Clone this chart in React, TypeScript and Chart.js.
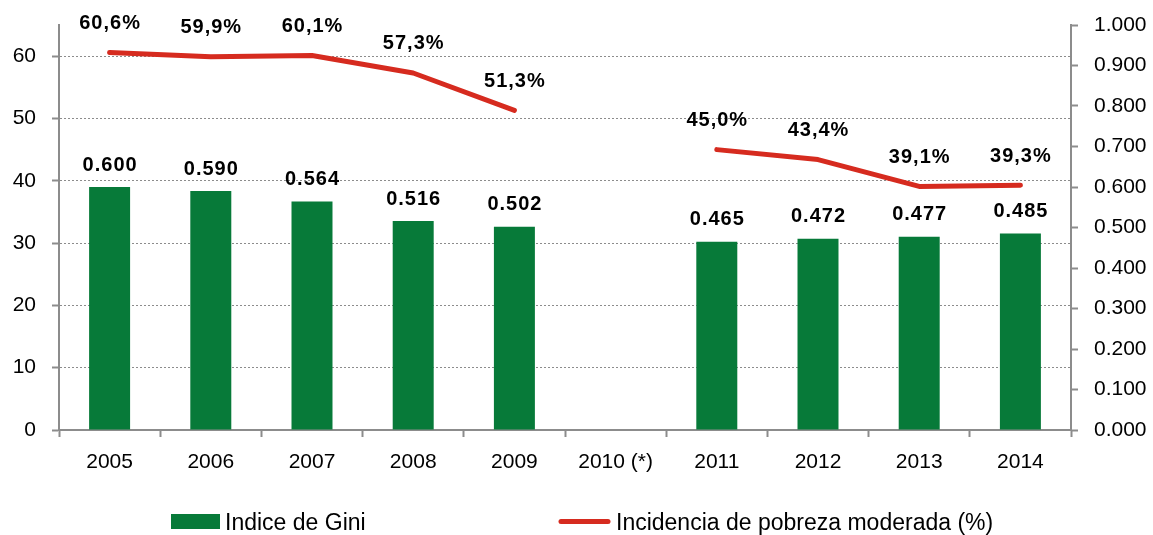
import React, { useEffect, useRef } from "react";
import { Chart, registerables } from "chart.js";

Chart.register(...registerables);

const categories = ["2005", "2006", "2007", "2008", "2009", "2010 (*)", "2011", "2012", "2013", "2014"];
const giniValues = [0.6, 0.59, 0.564, 0.516, 0.502, null, 0.465, 0.472, 0.477, 0.485];
const povertyValues = [60.6, 59.9, 60.1, 57.3, 51.3, null, 45.0, 43.4, 39.1, 39.3];
const leftTicks = [0, 10, 20, 30, 40, 50, 60];
const rightTicks = [0, 0.1, 0.2, 0.3, 0.4, 0.5, 0.6, 0.7, 0.8, 0.9, 1.0];
const giniLabel = "Indice de Gini";
const povertyLabel = "Incidencia de pobreza moderada (%)";

const GREEN = "#077a39";
const RED = "#d62b1f";
const GREY = "#8c8c8c";
const FONT = "'Liberation Sans', Arial, sans-serif";

const valueLabelPlugin = {
  id: "valueLabels",
  afterDatasetsDraw(chart: any) {
    const ctx = chart.ctx;
    ctx.save();
    ctx.font = `bold 20px ${FONT}`;
    ctx.fillStyle = "#000";
    ctx.textAlign = "center";
    ctx.textBaseline = "middle";
    (ctx as any).letterSpacing = "1px";
    chart.data.datasets.forEach((ds: any, i: number) => {
      const meta = chart.getDatasetMeta(i);
      meta.data.forEach((el: any, j: number) => {
        const v = ds.data[j];
        if (v == null) return;
        const isLine = ds.type === "line";
        const text = isLine ? v.toFixed(1).replace(".", ",") + "%" : v.toFixed(3);
        const y = isLine ? el.y - 29 : el.y - 22;
        ctx.fillText(text, el.x + 0.5, y);
      });
    });
    ctx.restore();
  },
};

const legendPlugin = {
  id: "bottomLegend",
  afterDraw(chart: any) {
    const ctx = chart.ctx;
    ctx.save();
    ctx.font = `23px ${FONT}`;
    ctx.textAlign = "left";
    ctx.textBaseline = "middle";
    ctx.fillStyle = GREEN;
    ctx.fillRect(171, 514, 49, 15);
    ctx.fillStyle = "#000";
    ctx.fillText(giniLabel, 225, 524);
    ctx.strokeStyle = RED;
    ctx.lineWidth = 5;
    ctx.lineCap = "round";
    ctx.beginPath();
    ctx.moveTo(561, 521.5);
    ctx.lineTo(608, 521.5);
    ctx.stroke();
    ctx.fillText(povertyLabel, 616, 524);
    ctx.restore();
  },
};

export default function App() {
  const canvasRef = useRef<HTMLCanvasElement | null>(null);

  useEffect(() => {
    if (!canvasRef.current) return;
    const chart = new Chart(canvasRef.current, {
      type: "bar",
      data: {
        labels: categories,
        datasets: [
          {
            type: "line",
            label: povertyLabel,
            data: povertyValues,
            yAxisID: "yL",
            borderColor: RED,
            backgroundColor: RED,
            borderWidth: 5,
            pointRadius: 0,
            pointHoverRadius: 0,
            spanGaps: false,
            tension: 0,
            borderCapStyle: "round",
            borderJoinStyle: "round",
            order: 0,
          } as any,
          {
            type: "bar",
            label: giniLabel,
            data: giniValues,
            yAxisID: "yR",
            backgroundColor: GREEN,
            categoryPercentage: 1,
            barPercentage: 0.405,
            order: 1,
          } as any,
        ],
      },
      options: {
        responsive: false,
        animation: false,
        layout: { padding: { top: 25, bottom: 55, left: 0, right: 0 } },
        plugins: {
          legend: { display: false },
          tooltip: { enabled: false },
        },
        scales: {
          x: {
            offset: true,
            afterFit: (s: any) => {
              s.height = 50;
              s.paddingLeft = 0;
              s.paddingRight = 0;
            },
            grid: {
              offset: true,
              drawOnChartArea: false,
              drawTicks: true,
              tickLength: 7,
              tickWidth: 2,
              tickColor: GREY,
              color: GREY,
            },
            border: { display: true, color: GREY, width: 2 },
            ticks: {
              color: "#000",
              font: { family: FONT, size: 21 },
              padding: 13,
              maxRotation: 0,
              autoSkip: false,
            },
          },
          yL: {
            type: "linear",
            position: "left",
            min: 0,
            max: 65,
            afterFit: (s: any) => {
              s.width = 59;
              s.paddingTop = 0;
              s.paddingBottom = 0;
            },
            afterBuildTicks: (s: any) => {
              s.ticks = leftTicks.map((v) => ({ value: v }));
            },
            grid: {
              color: (c: any) => (c.tick && c.tick.value === 0 ? "rgba(0,0,0,0)" : GREY),
              lineWidth: 1,
              drawTicks: true,
              tickLength: 7,
              tickWidth: 2,
              tickColor: GREY,
              tickBorderDash: [],
            } as any,
            border: { display: true, color: GREY, width: 2, dash: [2, 2] },
            ticks: {
              color: "#000",
              font: { family: FONT, size: 21 },
              padding: 16,
            },
          },
          yR: {
            type: "linear",
            position: "right",
            min: 0,
            max: 1,
            afterFit: (s: any) => {
              s.width = 82;
              s.paddingTop = 0;
              s.paddingBottom = 0;
            },
            afterBuildTicks: (s: any) => {
              s.ticks = rightTicks.map((v) => ({ value: v }));
            },
            grid: {
              drawOnChartArea: false,
              drawTicks: true,
              tickLength: 7,
              tickWidth: 2,
              tickColor: GREY,
              color: GREY,
            },
            border: { display: true, color: GREY, width: 2 },
            ticks: {
              color: "#000",
              font: { family: FONT, size: 21 },
              padding: 16,
              callback: (v: any) => Number(v).toFixed(3),
            },
          },
        },
      },
      plugins: [valueLabelPlugin, legendPlugin],
    });
    return () => chart.destroy();
  }, []);

  return (
    <div style={{ position: "fixed", left: 0, top: 0, width: 1153, height: 535, background: "#fff" }}>
      <canvas ref={canvasRef} width={1153} height={535} style={{ display: "block" }} />
    </div>
  );
}
